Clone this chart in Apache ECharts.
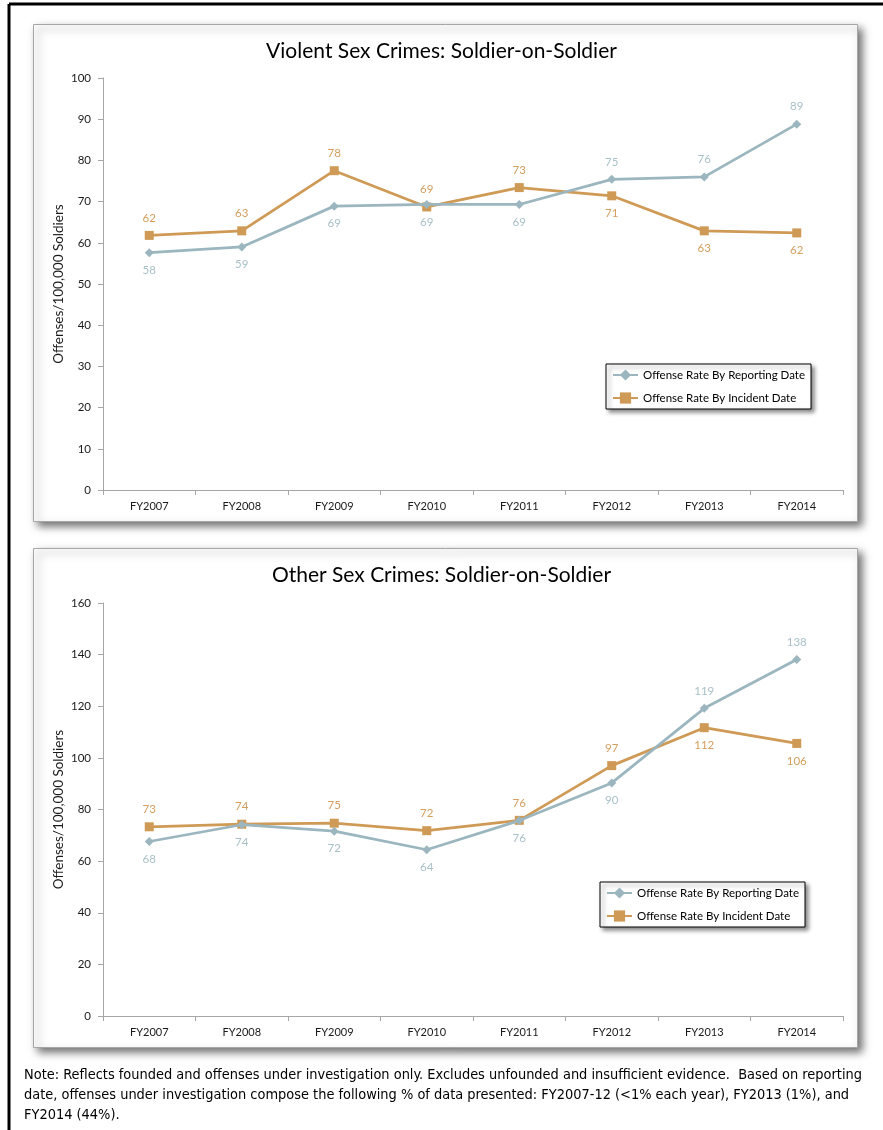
<!DOCTYPE html>
<html>
<head>
<meta charset="utf-8">
<script src="https://cdn.jsdelivr.net/npm/echarts@6/dist/echarts.min.js"></script>
<style>
  html, body { margin: 0; padding: 0; background: #fff; }
  #chart { width: 883px; height: 1130px; position: absolute; left: 0; top: 0; }
  #note { position: absolute; left: 24px; top: 1064px;
          font-family: "Liberation Sans Narrow", "DejaVu Sans Condensed", "Liberation Sans", sans-serif;
          font-size: 14px; line-height: 20px; color: #000; white-space: nowrap;
          transform-origin: 0 0; }
  #note span { display: block; }
</style>
</head>
<body>
<div id="chart"></div>
<div id="note"><span id="noteLine1">Note: Reflects founded and offenses under investigation only. Excludes unfounded and insufficient evidence.&nbsp; Based on reporting</span><span>date, offenses under investigation compose the following % of data presented: FY2007-12 (&lt;1% each year), FY2013 (1%), and</span><span>FY2014 (44%).</span></div>
<script>
const categories = ['FY2007', 'FY2008', 'FY2009', 'FY2010', 'FY2011', 'FY2012', 'FY2013', 'FY2014'];
const seriesNames = ['Offense Rate By Reporting Date', 'Offense Rate By Incident Date'];
const titles = ['Violent Sex Crimes: Soldier-on-Soldier', 'Other Sex Crimes: Soldier-on-Soldier'];
const yAxisName = 'Offenses/100,000 Soldiers';

// Violent sex crimes
const violentReporting = [57.6, 59.0, 68.9, 69.3, 69.3, 75.4, 76.0, 88.8];
const violentIncident  = [61.8, 62.9, 77.5, 68.7, 73.4, 71.4, 62.9, 62.4];
// Other sex crimes
const otherReporting = [67.6, 74.1, 71.6, 64.4, 75.7, 90.3, 119.2, 138.1];
const otherIncident  = [73.3, 74.3, 74.7, 71.8, 75.8, 97.0, 111.7, 105.6];

const yTicksTop = [0, 10, 20, 30, 40, 50, 60, 70, 80, 90, 100];
const yTicksBottom = [0, 20, 40, 60, 80, 100, 120, 140, 160];

const FONT = 'Lato, "Open Sans", sans-serif';
const REP_COLOR = '#9BB6BF';
const REP_LABEL = '#A9C0C8';
const INC_COLOR = '#CF9A55';
const INC_LABEL = '#D49E5E';

// fit the note's first line to the reference width
(function () {
  const note = document.getElementById('note');
  const w = document.getElementById('noteLine1').getBoundingClientRect().width;
  if (w > 0) note.style.transform = 'scaleX(' + (838 / w) + ')';
})();

function buildData(own, other, isRep) {
  return own.map((v, i) => {
    const repHigher = isRep ? (v > other[i] + 1) : (other[i] > v + 1);
    const pos = isRep ? (repHigher ? 'top' : 'bottom') : (repHigher ? 'bottom' : 'top');
    return { value: v, label: { position: pos } };
  });
}

function lineSeries(name, gridIdx, own, other, isRep) {
  return {
    name: name,
    type: 'line',
    xAxisIndex: gridIdx,
    yAxisIndex: gridIdx,
    data: buildData(own, other, isRep),
    symbol: isRep ? 'diamond' : 'rect',
    symbolSize: 9,
    z: isRep ? 3 : 2,
    lineStyle: { color: isRep ? REP_COLOR : INC_COLOR, width: 2.75 },
    itemStyle: { color: isRep ? REP_COLOR : INC_COLOR },
    label: {
      show: true,
      distance: 7,
      fontFamily: FONT,
      fontSize: 11.5,
      color: isRep ? REP_LABEL : INC_LABEL,
      formatter: p => Math.round(p.value)
    },
    emphasis: { disabled: true },
    animation: false
  };
}

function xAxis(gridIdx) {
  return {
    type: 'category',
    gridIndex: gridIdx,
    data: categories,
    boundaryGap: true,
    axisLine: { lineStyle: { color: '#A6A6A6', width: 1 } },
    axisTick: { show: true, interval: 0, length: 5, lineStyle: { color: '#A6A6A6' } },
    axisLabel: { interval: 0, margin: 11, fontFamily: FONT, fontSize: 11, color: '#1a1a1a' },
    splitLine: { show: false }
  };
}

function yAxis(gridIdx, ticks) {
  return {
    type: 'value',
    gridIndex: gridIdx,
    min: ticks[0],
    max: ticks[ticks.length - 1],
    interval: ticks[1] - ticks[0],
    name: yAxisName,
    nameLocation: 'middle',
    nameRotate: 90,
    nameGap: 37,
    nameMoveOverlap: false,
    nameTextStyle: { fontFamily: FONT, fontSize: 13.5, color: '#1a1a1a' },
    axisLine: { show: true, lineStyle: { color: '#A6A6A6', width: 1 } },
    axisTick: { show: true, length: 5, lineStyle: { color: '#A6A6A6' } },
    axisLabel: { margin: 12, fontFamily: FONT, fontSize: 11.5, color: '#1a1a1a' },
    splitLine: { show: false }
  };
}

function legend(left, top) {
  return {
    orient: 'vertical',
    left: left,
    top: top,
    data: seriesNames,
    itemWidth: 25,
    itemHeight: 14,
    itemGap: 11,
    padding: [5, 6, 5, 6],
    backgroundColor: '#fff',
    borderColor: '#000',
    borderWidth: 1,
    shadowBlur: 4,
    shadowColor: 'rgba(0,0,0,0.45)',
    shadowOffsetX: 3,
    shadowOffsetY: 3,
    textStyle: { fontFamily: FONT, fontSize: 11.5, color: '#000' },
    selectedMode: false
  };
}

function boxRect(x, y, w, h) {
  return {
    type: 'rect',
    shape: { x: x, y: y, width: w, height: h },
    style: {
      fill: '#fff', stroke: '#A6A6A6', lineWidth: 1,
      shadowBlur: 8, shadowColor: 'rgba(0,0,0,0.55)', shadowOffsetX: 4, shadowOffsetY: 4
    },
    z: -10,
    silent: true
  };
}

const chart = echarts.init(document.getElementById('chart'), null, { renderer: 'canvas' });
chart.setOption({
  animation: false,
  backgroundColor: '#fff',
  title: [
    { text: titles[0], left: 'center', top: 36, textStyle: { fontFamily: FONT, fontSize: 21, fontWeight: 'normal', color: '#000' } },
    { text: titles[1], left: 'center', top: 560, textStyle: { fontFamily: FONT, fontSize: 21, fontWeight: 'normal', color: '#000' } }
  ],
  legend: [legend(606, 364), legend(600, 882)],
  grid: [
    { left: 103, right: 40, top: 78, height: 412, containLabel: false },
    { left: 103, right: 40, top: 603, height: 413, containLabel: false }
  ],
  xAxis: [xAxis(0), xAxis(1)],
  yAxis: [yAxis(0, yTicksTop), yAxis(1, yTicksBottom)],
  series: [
    lineSeries(seriesNames[0], 0, violentReporting, violentIncident, true),
    lineSeries(seriesNames[1], 0, violentIncident, violentReporting, false),
    lineSeries(seriesNames[0], 1, otherReporting, otherIncident, true),
    lineSeries(seriesNames[1], 1, otherIncident, otherReporting, false)
  ],
  graphic: [
    { type: 'line', shape: { x1: 9, y1: 4, x2: 883, y2: 4 }, style: { stroke: '#000', lineWidth: 3 }, silent: true },
    { type: 'line', shape: { x1: 9, y1: 4, x2: 9, y2: 1130 }, style: { stroke: '#000', lineWidth: 3 }, silent: true },
    boxRect(33.5, 24.5, 824, 497),
    boxRect(33.5, 548.5, 824, 499)
  ]
});
</script>
</body>
</html>
